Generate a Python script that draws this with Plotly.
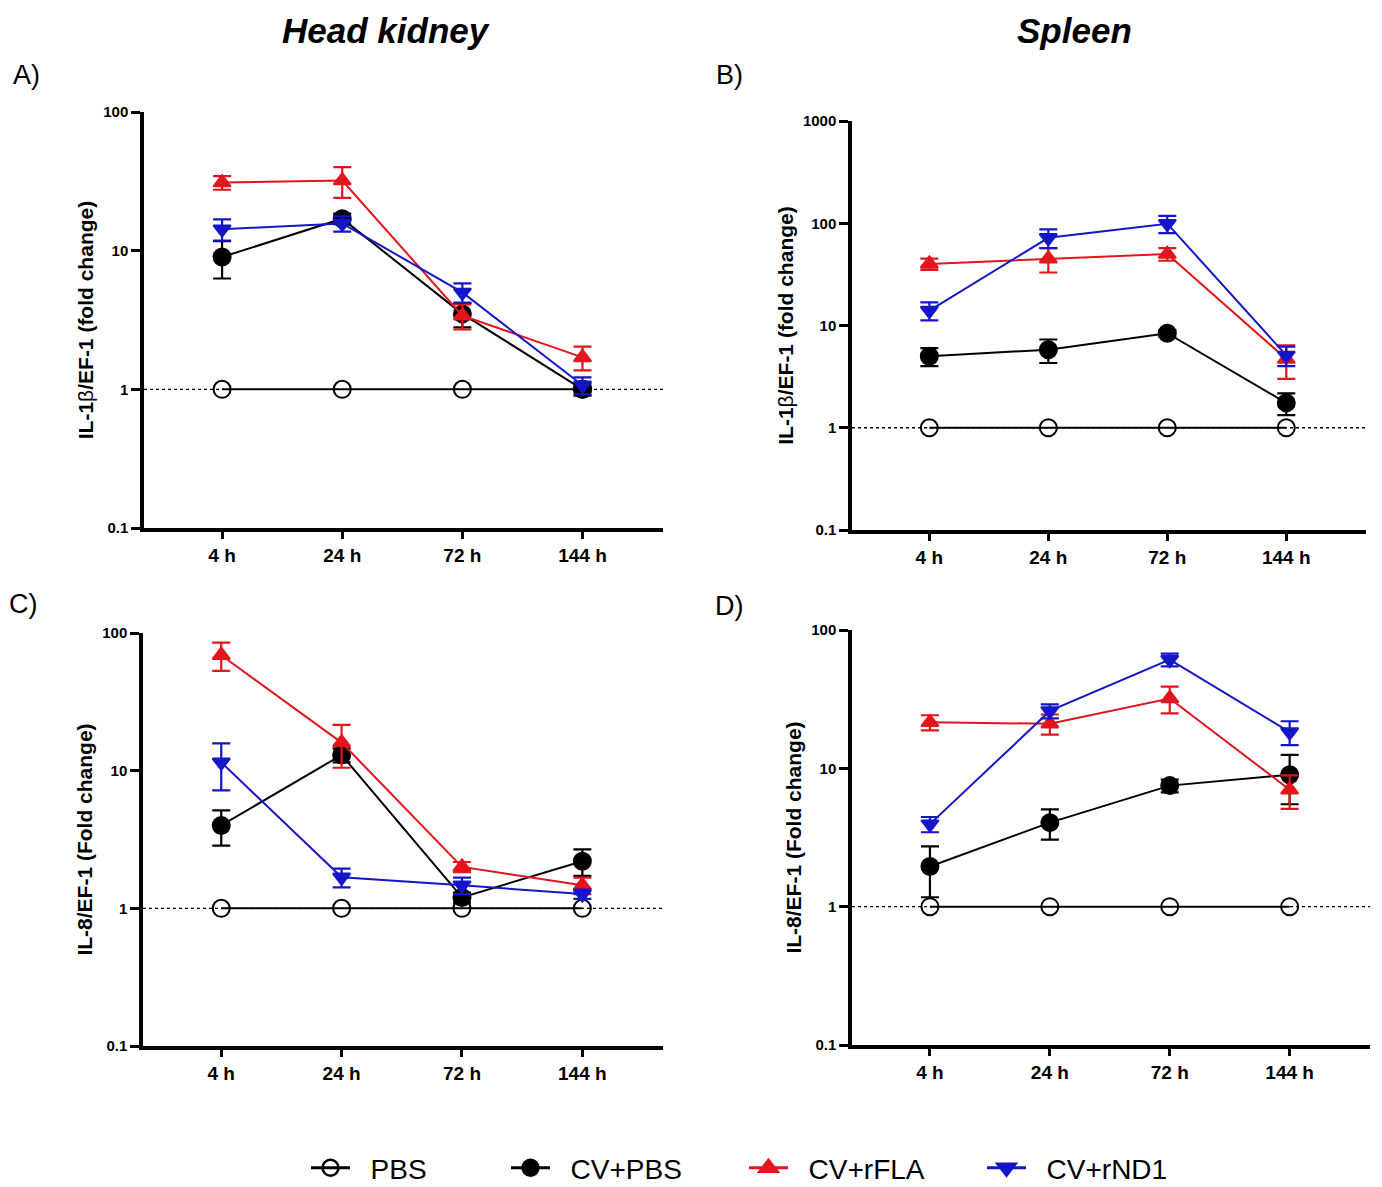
import plotly.graph_objects as go

# ---------------- data ----------------
times = ["4 h", "24 h", "72 h", "144 h"]
groups = ["PBS", "CV+PBS", "CV+rFLA", "CV+rND1"]

# Panel A: Head kidney IL-1b
a_pbs = [1, 1, 1, 1]
a_cvpbs = [9.0, 17.0, 3.5, 1.0]
a_cvpbs_err = [2.7, 1.5, 0.7, 0.1]
a_rfla = [31.0, 32.0, 3.4, 1.7]
a_rfla_err = [3.5, 8.0, 0.7, 0.33]
a_rnd1 = [14.3, 15.7, 5.0, 1.07]
a_rnd1_err = [2.5, 2.0, 0.8, 0.15]

# Panel B: Spleen IL-1b
b_pbs = [1, 1, 1, 1]
b_cvpbs = [5.0, 5.8, 8.4, 1.75]
b_cvpbs_err = [1.0, 1.5, 0.6, 0.42]
b_rfla = [40.0, 45.0, 50.0, 4.7]
b_rfla_err = [5.0, 12.0, 7.0, 1.7]
b_rnd1 = [14.0, 72.0, 99.0, 5.1]
b_rnd1_err = [2.8, 15.0, 19.0, 1.1]

# Panel C: Head kidney IL-8
c_pbs = [1, 1, 1, 1]
c_cvpbs = [4.0, 13.0, 1.2, 2.2]
c_cvpbs_err = [1.15, 1.5, 0.1, 0.48]
c_rfla = [69.0, 16.0, 2.0, 1.47]
c_rfla_err = [16.0, 5.5, 0.17, 0.2]
c_rnd1 = [11.5, 1.68, 1.47, 1.27]
c_rnd1_err = [4.3, 0.26, 0.2, 0.1]

# Panel D: Spleen IL-8
d_pbs = [1, 1, 1, 1]
d_cvpbs = [1.95, 4.05, 7.5, 9.0]
d_cvpbs_err = [0.78, 1.0, 0.8, 3.5]
d_rfla = [21.5, 21.0, 32.0, 7.0]
d_rfla_err = [2.7, 3.5, 7.0, 1.9]
d_rnd1 = [3.95, 26.0, 61.0, 18.3]
d_rnd1_err = [0.5, 3.0, 6.5, 3.6]

y_ticks_3 = [0.1, 1, 10, 100]
y_ticktext_3 = ["0.1", "1", "10", "100"]
y_ticks_4 = [0.1, 1, 10, 100, 1000]
y_ticktext_4 = ["0.1", "1", "10", "100", "1000"]

# ---------------- style ----------------
PAGE_W, PAGE_H = 1382, 1187
BODY = 8  # default page body margin
W, H = PAGE_W - BODY, PAGE_H - BODY
FONT = "Arial, Liberation Sans, sans-serif"
BLACK = "#000000"
RED = "#e3141b"
BLUE = "#1414c8"

styles = {
    "PBS": dict(color=BLACK, symbol="circle-open", size=17, lw=2.0),
    "CV+PBS": dict(color=BLACK, symbol="circle", size=17, lw=2.0),
    "CV+rFLA": dict(color=RED, symbol="triangle-up", size=15, lw=2.0),
    "CV+rND1": dict(color=BLUE, symbol="triangle-down", size=15, lw=2.0),
}

def px_x(p):
    return (p - BODY) / W

def px_y(p):
    return 1 - (p - BODY) / H

panels = [
    dict(ax="", xd=(144, 663), yd=(112, 528), yr=[-1, 2], tv=y_ticks_3, tt=y_ticktext_3,
         title="<b>IL-1</b>β<b>/EF-1 (fold change)</b>",
         data=[(a_pbs, None), (a_cvpbs, a_cvpbs_err), (a_rfla, a_rfla_err), (a_rnd1, a_rnd1_err)]),
    dict(ax="2", xd=(852, 1366), yd=(121, 530), yr=[-1, 3], tv=y_ticks_4, tt=y_ticktext_4,
         title="<b>IL-1</b>β<b>/EF-1 (fold change)</b>",
         data=[(b_pbs, None), (b_cvpbs, b_cvpbs_err), (b_rfla, b_rfla_err), (b_rnd1, b_rnd1_err)]),
    dict(ax="3", xd=(143, 663), yd=(633, 1046), yr=[-1, 2], tv=y_ticks_3, tt=y_ticktext_3,
         title="<b>IL-8/EF-1 (Fold change)</b>",
         data=[(c_pbs, None), (c_cvpbs, c_cvpbs_err), (c_rfla, c_rfla_err), (c_rnd1, c_rnd1_err)]),
    dict(ax="4", xd=(852, 1370), yd=(630, 1045), yr=[-1, 2], tv=y_ticks_3, tt=y_ticktext_3,
         title="<b>IL-8/EF-1 (Fold change)</b>",
         data=[(d_pbs, None), (d_cvpbs, d_cvpbs_err), (d_rfla, d_rfla_err), (d_rnd1, d_rnd1_err)]),
]

fig = go.Figure()

for p in panels:
    xa = "x" + p["ax"]
    ya = "y" + p["ax"]
    for g, (vals, err) in zip(groups, p["data"]):
        s = styles[g]
        tr = dict(
            x=times, y=vals, mode="lines+markers", name=g, showlegend=False,
            xaxis=xa, yaxis=ya,
            line=dict(color=s["color"], width=s["lw"]),
            marker=dict(symbol=s["symbol"], size=s["size"], color=s["color"],
                        line=dict(color=s["color"], width=2)),
            cliponaxis=False,
        )
        if err is not None:
            tr["error_y"] = dict(type="data", array=err, symmetric=True, visible=True,
                                 color=s["color"], thickness=2.2, width=9)
        fig.add_trace(go.Scatter(**tr))
    fig.add_shape(type="line", xref=xa + " domain", yref=ya, x0=0, x1=1, y0=1, y1=1,
                  line=dict(color=BLACK, width=1.3, dash="dot"), layer="below")

    fig.layout["xaxis" + p["ax"]] = dict(
        domain=[px_x(p["xd"][0]), px_x(p["xd"][1])],
        anchor=ya, type="category", range=[-0.65, 3.67],
        showline=True, linecolor=BLACK, linewidth=3.5, ticks="outside",
        ticklen=7, tickwidth=2.5, tickcolor=BLACK, showgrid=False, zeroline=False,
        automargin=False,
        tickfont=dict(family=FONT, size=19, color=BLACK, weight="bold"),
    )
    fig.layout["yaxis" + p["ax"]] = dict(
        domain=[px_y(p["yd"][1]), px_y(p["yd"][0])],
        anchor=xa, type="log", range=p["yr"],
        tickvals=p["tv"], ticktext=p["tt"],
        showline=True, linecolor=BLACK, linewidth=3.5, ticks="outside",
        ticklen=9, tickwidth=2.5, tickcolor=BLACK, showgrid=False, zeroline=False,
        automargin=False,
        tickfont=dict(family=FONT, size=15, color=BLACK, weight="bold"),
        title=dict(text=p["title"], font=dict(family=FONT, size=21, color=BLACK), standoff=5),
    )

# legend entries (larger symbols), each in its own legend for exact placement
leg_x = [306, 506, 744, 982]
leg_names = ["legend", "legend2", "legend3", "legend4"]
NB = "\u00a0\u00a0"
for g, lx, ln in zip(groups, leg_x, leg_names):
    s = styles[g]
    fig.add_trace(go.Scatter(
        x=[None], y=[None], mode="lines+markers", name=NB + g, showlegend=True, legend=ln,
        line=dict(color=s["color"], width=3),
        marker=dict(symbol=s["symbol"], size=24, color=s["color"],
                    line=dict(color=s["color"], width=2.5)),
    ))
    fig.layout[ln] = dict(
        x=px_x(lx), y=px_y(1168), xanchor="left", yanchor="middle",
        orientation="h", bgcolor="rgba(0,0,0,0)", borderwidth=0,
        font=dict(family=FONT, size=28, color=BLACK), itemwidth=39,
        itemsizing="trace",
    )

anns = []
for t, cx in [("<b><i>Head kidney</i></b>", 386), ("<b><i>Spleen</i></b>", 1074)]:
    anns.append(dict(text=t, x=px_x(cx), y=px_y(30), xref="paper", yref="paper",
                     xanchor="center", yanchor="middle", showarrow=False,
                     font=dict(family=FONT, size=35, color=BLACK)))
labels = [("A)", 26, 75), ("B)", 729, 75), ("C)", 23, 604), ("D)", 729, 606)]
for t, lx, ly in labels:
    anns.append(dict(text=t, x=px_x(lx), y=px_y(ly), xref="paper", yref="paper",
                     xanchor="center", yanchor="middle", showarrow=False,
                     font=dict(family=FONT, size=27, color=BLACK)))

fig.update_layout(
    width=W, height=H,
    margin=dict(l=0, r=0, t=0, b=0, autoexpand=False),
    paper_bgcolor="white", plot_bgcolor="white",
    annotations=anns,
    font=dict(family=FONT, color=BLACK),
)

fig.write_html("out.html")
